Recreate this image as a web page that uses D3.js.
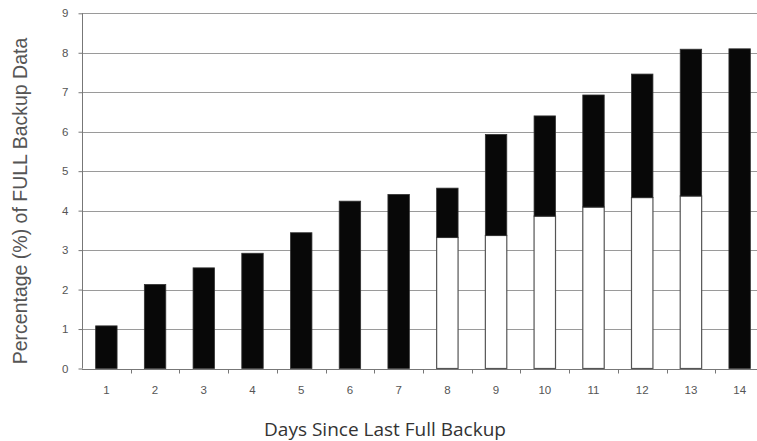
<!DOCTYPE html>
<html>
<head>
<meta charset="utf-8">
<script src="https://cdn.jsdelivr.net/npm/d3@7"></script>
<style>
  html, body { margin: 0; padding: 0; background: #fff; overflow: hidden; }
  svg { display: block; }
</style>
</head>
<body>
<svg id="chart" width="757" height="441"></svg>
<script>
const days = ["1","2","3","4","5","6","7","8","9","10","11","12","13","14"];
const whiteValues = [0, 0, 0, 0, 0, 0, 0, 3.32, 3.37, 3.86, 4.09, 4.33, 4.37, 0];
const blackValues = [1.08, 2.13, 2.55, 2.92, 3.44, 4.24, 4.41, 1.25, 2.56, 2.54, 2.84, 3.13, 3.72, 8.10];
const yTicks = [0, 1, 2, 3, 4, 5, 6, 7, 8, 9];
const xTitle = "Days Since Last Full Backup";
const yTitle = "Percentage (%) of FULL Backup Data";

(function () {
const svg = d3.select("#chart");
const mLeft = 82, mRight = 764, mTop = 13.3, mBottom = 368.5;

const x = d3.scaleBand().domain(days).range([mLeft, mRight]).paddingInner(0.56).paddingOuter(0.28);
const y = d3.scaleLinear().domain([0, 9]).range([mBottom, mTop]);

// gridlines
svg.append("g").selectAll("line").data(yTicks.filter(d => d > 0)).join("line")
  .attr("x1", mLeft).attr("x2", 757)
  .attr("y1", d => Math.round(y(d)) + 0.5).attr("y2", d => Math.round(y(d)) + 0.5)
  .attr("stroke", "#9a9a9a").attr("stroke-width", 1.2);

// bars
const rows = days.map((d, i) => ({ day: d, white: whiteValues[i], black: blackValues[i] }));
const stack = d3.stack().keys(["white", "black"])(rows);

const g = svg.append("g");
g.selectAll("rect.white").data(stack[0].filter(s => s[1] > s[0])).join("rect")
  .attr("class", "white")
  .attr("x", s => x(s.data.day))
  .attr("width", x.bandwidth())
  .attr("y", s => y(s[1]))
  .attr("height", s => y(s[0]) - y(s[1]))
  .attr("fill", "#ffffff").attr("stroke", "#555").attr("stroke-width", 1.2);

g.selectAll("rect.black").data(stack[1]).join("rect")
  .attr("class", "black")
  .attr("x", s => x(s.data.day))
  .attr("width", x.bandwidth())
  .attr("y", s => y(s[1]))
  .attr("height", s => y(s[0]) - y(s[1]))
  .attr("fill", "#080808").attr("stroke", "#333").attr("stroke-width", 0.8);

// y axis
const yAxis = d3.axisLeft(y).tickValues(yTicks).tickSize(4).tickPadding(10).tickFormat(d3.format("d"));
const ya = svg.append("g").attr("transform", `translate(${mLeft + 0.5},0)`).call(yAxis);
ya.select(".domain").attr("stroke", "#777").attr("d", `M0,${mTop}V${mBottom}`);
ya.selectAll(".tick line").attr("stroke", "#777");
ya.selectAll(".tick text").attr("fill", "#555").style("font-family", "'Liberation Sans', Arial, sans-serif").style("font-size", "11.5px");

// x axis
const xAxis = d3.axisBottom(x).tickSize(0).tickPadding(16);
const xa = svg.append("g").attr("transform", `translate(0,${Math.round(mBottom) + 0.5})`).call(xAxis);
xa.select(".domain").attr("stroke", "#777").attr("d", `M${mLeft},0H757`);
xa.selectAll(".tick text").attr("fill", "#555").style("font-family", "'Liberation Sans', Arial, sans-serif").style("font-size", "11.5px");
// tick marks between categories
const gap = (x.step() - x.bandwidth()) / 2;
xa.append("g").selectAll("line").data(days.slice(0, 13)).join("line")
  .attr("x1", d => Math.round(x(d) + x.bandwidth() + gap) + 0.5)
  .attr("x2", d => Math.round(x(d) + x.bandwidth() + gap) + 0.5)
  .attr("y1", 0).attr("y2", 4)
  .attr("stroke", "#777");

// titles
svg.append("text")
  .attr("x", 385).attr("y", 436)
  .attr("text-anchor", "middle")
  .attr("fill", "#333")
  .style("font-family", "'Open Sans', sans-serif")
  .style("font-size", "19px")
  .text(xTitle);

svg.append("text")
  .attr("transform", "translate(27,201) rotate(-90)")
  .attr("text-anchor", "middle")
  .attr("fill", "#555")
  .style("font-family", "'Liberation Sans', Arial, sans-serif")
  .style("font-size", "19.5px")
  .text(yTitle);
})();
</script>
</body>
</html>
